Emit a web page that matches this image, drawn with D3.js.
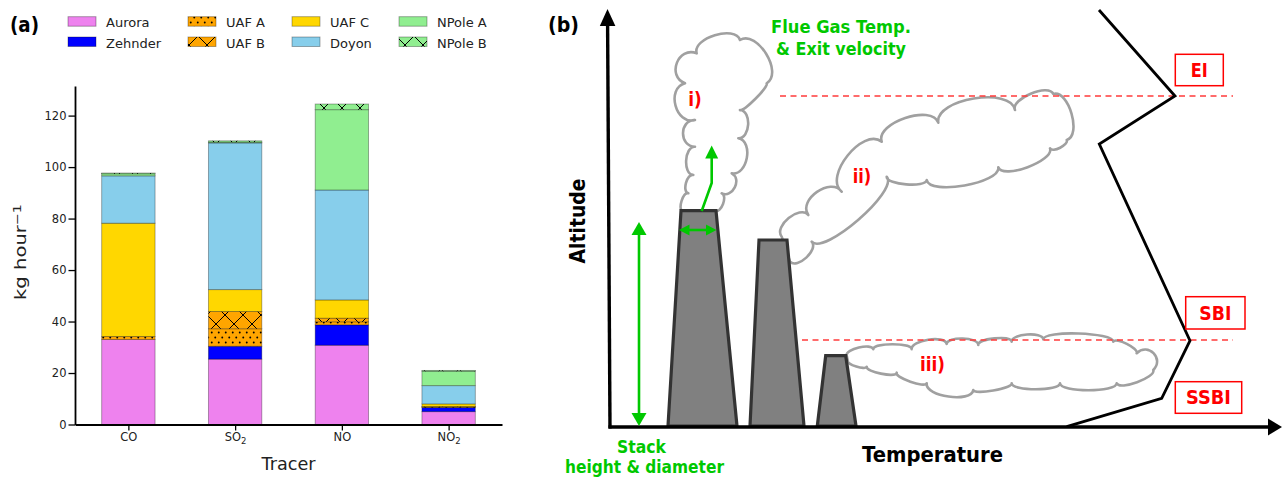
<!DOCTYPE html>
<html><head><meta charset="utf-8">
<script src="https://cdn.jsdelivr.net/npm/d3@7/dist/d3.min.js"></script>
<style>html,body{margin:0;padding:0;background:#fff}svg{display:block}</style>
</head><body>
<svg id="fig" width="1282" height="477" xmlns="http://www.w3.org/2000/svg"></svg>
<script>
// ---------------- Panel (a) data ----------------
const categories   = ["CO", "SO2", "NO", "NO2"];
const categoryMain = ["CO", "SO", "NO", "NO"];
const categorySub  = ["", "2", "", "2"];
const seriesNames  = ["Aurora", "Zehnder", "UAF A", "UAF B", "UAF C", "Doyon", "NPole A", "NPole B"];
const aurora  = [33.0, 25.4, 30.8, 5.0];
const zehnder = [0.0, 5.0, 7.9, 1.6];
const uafA    = [1.2, 6.8, 1.2, 0.2];
const uafB    = [0.0, 6.7, 1.4, 0.2];
const uafC    = [44.0, 8.5, 7.1, 1.0];
const doyon   = [18.4, 57.0, 42.7, 7.1];
const npoleA  = [0.8, 0.3, 31.2, 5.6];
const npoleB  = [0.3, 0.5, 2.2, 0.3];
const yTicks  = [0, 20, 40, 60, 80, 100, 120];
const yLabelMain = "kg hour", yLabelSup = "\u22121";
const xLabel = "Tracer";

// ---------------- Panel (b) schematic geometry ----------------
const stacks = [
  [[681, 210.7], [716, 210.7], [737, 426], [668, 426]],
  [[759, 240], [787, 240], [804, 426], [750, 426]],
  [[825.7, 355.7], [845.7, 355.7], [856, 426], [817.3, 426]]
];
const tempProfile = [[1099, 10], [1175, 96], [1099.3, 144], [1190, 340.7], [1161.7, 398.3], [1066.7, 426.7]];
const inversionNames = ["EI", "SBI", "SSBI"];
const plumeNames = ["i)", "ii)", "iii)"];
// cloud outlines: cusp vertices + bulge (sagitta) for each segment
const plume1 = [[682.5,211],[688.3,193.3],[693.3,175],[695,146.7],[695,120],[685,83.3],[696.7,53.3],[740,40],[766.7,83.3],[740,110],[738.3,138.3],[731.7,173.3],[721.7,193.3],[715,211]];
const plume1Bulge = [4,5,8,12,15,15,12,15,3,9,12,9,5,0];
const plume2 = [[781.7,236.7],[808.3,215],[841.7,191.7],[881.7,141.7],[938.3,122.7],[1015,110],[1053.3,94],[1066.7,140],[1050,148.3],[998.3,167.3],[926.7,180],[886.7,176.7],[811.7,241.7],[790,261.7]];
const plume2Bulge = [10,14,18,15,18,9,12,4,10,12,6,14,8,0];
const plume3 = [[846.7,355.5],[873.3,349.3],[911.7,349.3],[946.7,344],[978.3,345],[1011.7,341.7],[1043.3,339.3],[1113.3,341.7],[1136.7,353.3],[1153.3,370],[1116.7,383.3],[1060,383.3],[1011.7,383.3],[973.3,390],[926.7,383.3],[896.7,372.7],[866.7,366.7],[847.8,360.7]];
const plume3Bulge = [5,5,7,6,5,6,7,4,12,6,7,6,4,10,4,4,3,0];

// ---------------- styles ----------------
const seriesValues = [aurora, zehnder, uafA, uafB, uafC, doyon, npoleA, npoleB];
const seriesColor  = ["violet", "blue", "orange", "orange", "gold", "skyblue", "lightgreen", "lightgreen"];
const seriesHatch  = [null, null, "dots", "cross", null, null, null, "cross"];
const GREEN = "#00c800", RED = "#ff0000", FONT = "DejaVu Sans";

const svg = d3.select("#fig");
svg.append("rect").attr("width", 1282).attr("height", 477).attr("fill", "#fff");
const defs = svg.append("defs");
const pc = defs.append("pattern").attr("id", "hatch-cross").attr("patternUnits", "userSpaceOnUse").attr("width", 18).attr("height", 18);
pc.append("path").attr("d", "M-2,-2L20,20M-2,20L20,-2").attr("stroke", "#000").attr("stroke-width", 1).attr("fill", "none");
const pd = defs.append("pattern").attr("id", "hatch-dots").attr("patternUnits", "userSpaceOnUse").attr("width", 7).attr("height", 10);
pd.append("circle").attr("cx", 1.75).attr("cy", 2.5).attr("r", 0.95).attr("fill", "#000");
pd.append("circle").attr("cx", 5.25).attr("cy", 7.5).attr("r", 0.95).attr("fill", "#000");

// ================= Panel (a) =================
const x = d3.scaleLinear().domain([-0.5, 3.5]).range([75, 502]);
const y = d3.scaleLinear().domain([0, 131.5]).range([424.5, 86]);
const rows = categories.map((c, i) => {
  const r = { cat: c };
  seriesNames.forEach((s, k) => { r[s] = seriesValues[k][i]; });
  return r;
});
const stacked = d3.stack().keys(seriesNames)(rows);
const bw = x(0.25) - x(-0.25);
const gA = svg.append("g");
stacked.forEach((layer, k) => {
  const data = layer.map((d, i) => ({ d, i })).filter(o => o.d[1] - o.d[0] > 0);
  const g = gA.append("g");
  const draw = (fill, stroke) => g.selectAll(null).data(data).join("rect")
    .attr("x", o => x(o.i) - bw / 2).attr("y", o => y(o.d[1]))
    .attr("width", bw).attr("height", o => y(o.d[0]) - y(o.d[1]))
    .attr("fill", fill).attr("stroke", stroke).attr("stroke-width", 0.9);
  draw(seriesColor[k], "none");
  if (seriesHatch[k]) draw(`url(#hatch-${seriesHatch[k]})`, "none");
  draw("none", "rgba(0,0,0,0.35)");
});

const gy = svg.append("g").attr("transform", "translate(75,0)")
  .call(d3.axisLeft(y).tickValues(yTicks).tickSize(6.5).tickSizeOuter(0).tickPadding(2));
gy.attr("font-family", FONT).attr("font-size", 11.5);
gy.select(".domain").attr("stroke-width", 1.8);
gy.selectAll(".tick line").attr("stroke-width", 1.3);
gy.selectAll(".tick text").attr("fill", "#222");

const gx = svg.append("g").attr("transform", "translate(0,424.5)")
  .call(d3.axisBottom(x).tickValues(d3.range(categories.length)).tickSize(6).tickSizeOuter(0).tickPadding(2.5).tickFormat(i => categoryMain[i]));
gx.attr("font-family", FONT).attr("font-size", 11.5);
gx.select(".domain").attr("stroke-width", 1.8);
gx.selectAll(".tick line").attr("stroke-width", 1.3);
gx.selectAll(".tick text").attr("fill", "#222").each(function (i) {
  if (categorySub[i]) d3.select(this).append("tspan").attr("dy", "0.3em").attr("font-size", 8.5).text(categorySub[i]);
});

const yl = svg.append("text").attr("transform", "translate(26,252) rotate(-90)")
  .attr("text-anchor", "middle").attr("font-family", FONT).attr("font-size", 15).attr("fill", "#222")
  .attr("textLength", 96).attr("lengthAdjust", "spacingAndGlyphs");
yl.append("tspan").text(yLabelMain);
yl.append("tspan").attr("dy", "-0.45em").attr("font-size", 11).text(yLabelSup);

svg.append("text").attr("x", 288.5).attr("y", 470).attr("text-anchor", "middle")
  .attr("font-family", FONT).attr("font-size", 18).attr("fill", "#222")
  .attr("textLength", 54).attr("lengthAdjust", "spacingAndGlyphs").text(xLabel);

// legend (matplotlib ncol=4, column-major)
const legColX = [68, 188, 292, 399], legRowY = [16.7, 37];
const leg = svg.append("g").attr("font-family", FONT).attr("font-size", 13);
seriesNames.forEach((s, k) => {
  const cx = legColX[Math.floor(k / 2)], cy = legRowY[k % 2];
  leg.append("rect").attr("x", cx).attr("y", cy).attr("width", 28).attr("height", 9.5).attr("fill", seriesColor[k]);
  if (seriesHatch[k]) leg.append("rect").attr("x", cx).attr("y", cy).attr("width", 28).attr("height", 9.5).attr("fill", `url(#hatch-${seriesHatch[k]})`);
  leg.append("rect").attr("x", cx).attr("y", cy).attr("width", 28).attr("height", 9.5).attr("fill", "none").attr("stroke", "rgba(0,0,0,0.35)").attr("stroke-width", 0.9);
  leg.append("text").attr("x", cx + 38).attr("y", cy + 10.6).attr("fill", "#222").text(s);
});

svg.append("text").attr("x", 10).attr("y", 32).attr("font-family", FONT).attr("font-weight", "bold")
  .attr("font-size", 21).attr("textLength", 29).attr("lengthAdjust", "spacingAndGlyphs").text("(a)");

// ================= Panel (b) =================
const bx = d3.scaleLinear().domain([540, 1282]).range([540, 1282]);
const by = d3.scaleLinear().domain([0, 477]).range([0, 477]);
const gB = svg.append("g");
const P = p => [bx(p[0]), by(p[1])];

function cloud(pts, bulge) {
  const p = d3.path();
  const q = pts.map(P);
  p.moveTo(q[0][0], q[0][1]);
  for (let i = 0; i < q.length; i++) {
    const A = q[i], B = q[(i + 1) % q.length], s = bulge[i];
    if (!s) { p.lineTo(B[0], B[1]); continue; }
    const dx = B[0] - A[0], dy = B[1] - A[1], L = Math.hypot(dx, dy);
    const nx = dy / L, ny = -dx / L, h = s / 0.75;
    p.bezierCurveTo(A[0] + nx * h, A[1] + ny * h, B[0] + nx * h, B[1] + ny * h, B[0], B[1]);
  }
  p.closePath();
  return p.toString();
}
[[plume1, plume1Bulge], [plume2, plume2Bulge], [plume3, plume3Bulge]].forEach(([pts, bl]) => {
  gB.append("path").attr("d", cloud(pts, bl)).attr("fill", "#fff").attr("stroke", "#a0a0a0")
    .attr("stroke-width", 2.6).attr("stroke-linejoin", "round");
});

// inversion dashed lines
const levels = [{ y: 96, x0: 780, x1: 1233 }, { y: 340, x0: 802, x1: 1233 }];
levels.forEach(l => gB.append("line").attr("x1", bx(l.x0)).attr("x2", bx(l.x1)).attr("y1", by(l.y)).attr("y2", by(l.y))
  .attr("stroke", "#ff3b3b").attr("stroke-width", 1.6).attr("stroke-dasharray", "6,4.5"));

// stacks
stacks.forEach(s => gB.append("path").attr("d", d3.line()(s.map(P)) + "Z")
  .attr("fill", "#808080").attr("stroke", "#333").attr("stroke-width", 3.2).attr("stroke-linejoin", "miter"));

// temperature profile
gB.append("path").attr("d", d3.line()(tempProfile.map(P))).attr("fill", "none")
  .attr("stroke", "#000").attr("stroke-width", 2.8).attr("stroke-linejoin", "miter");

// arrows helper
function arrow(g, pts, color, width, heads, len, halfW) {
  const q = pts.map(P).map(p => p.slice());
  const shorten = (tip, from) => {
    const dx = tip[0] - from[0], dy = tip[1] - from[1], L = Math.hypot(dx, dy);
    const ux = dx / L, uy = dy / L;
    const base = [tip[0] - ux * len, tip[1] - uy * len];
    g.append("path").attr("d", d3.line()([tip.slice(), [base[0] - uy * halfW, base[1] + ux * halfW], [base[0] + uy * halfW, base[1] - ux * halfW]]) + "Z")
      .attr("fill", color);
    return [tip[0] - ux * (len - 1), tip[1] - uy * (len - 1)];
  };
  const n = q.length;
  if (heads.end) q[n - 1] = shorten(q[n - 1], q[n - 2]);
  if (heads.start) q[0] = shorten(q[0], q[1]);
  g.append("path").attr("d", d3.line()(q)).attr("fill", "none").attr("stroke", color).attr("stroke-width", width);
}
// axes of schematic
arrow(gB, [[610, 428.5], [607.5, 9]], "#000", 3.4, { end: true }, 17, 7.8);
arrow(gB, [[608.5, 427], [1282, 427]], "#000", 3.4, { end: true }, 14, 8.5);
// green arrows
arrow(gB, [[639, 222], [639, 426]], GREEN, 2.6, { start: true, end: true }, 13, 7.5);
arrow(gB, [[679, 230], [716.5, 230]], GREEN, 2.6, { start: true, end: true }, 10.5, 5.5);
arrow(gB, [[701.7, 211], [711.7, 183], [711.7, 145.5]], GREEN, 2.6, { end: true }, 13, 6.5);

// inversion label boxes
const boxes = [
  { x0: 1175.3, x1: 1223.3, y0: 54.3, y1: 85.7, base: 76.7, w: 17 },
  { x0: 1185.7, x1: 1245, y0: 296.7, y1: 329, base: 320, w: 32 },
  { x0: 1175.3, x1: 1241.7, y0: 381.7, y1: 413.3, base: 404.3, w: 45 }
];
boxes.forEach((b, i) => {
  gB.append("rect").attr("x", bx(b.x0)).attr("y", by(b.y0)).attr("width", bx(b.x1) - bx(b.x0)).attr("height", by(b.y1) - by(b.y0))
    .attr("fill", "#fff").attr("stroke", RED).attr("stroke-width", 1.5);
  gB.append("text").attr("x", bx((b.x0 + b.x1) / 2)).attr("y", by(b.base)).attr("text-anchor", "middle")
    .attr("font-family", FONT).attr("font-weight", "bold").attr("font-size", 19).attr("fill", RED)
    .attr("textLength", b.w).attr("lengthAdjust", "spacingAndGlyphs").text(inversionNames[i]);
});

// texts
function label(txt, cx, base, size, w, color, rot) {
  const t = gB.append("text").attr("text-anchor", "middle").attr("font-family", FONT).attr("font-weight", "bold")
    .attr("font-size", size).attr("fill", color).attr("textLength", w).attr("lengthAdjust", "spacingAndGlyphs").text(txt);
  if (rot) t.attr("transform", `translate(${bx(cx)},${by(base)}) rotate(-90)`);
  else t.attr("x", bx(cx)).attr("y", by(base));
}
label(plumeNames[0], 695, 105.5, 19, 13.5, RED);
label(plumeNames[1], 862, 183, 19, 18.5, RED);
label(plumeNames[2], 932.5, 371, 19, 25, RED);
label("Flue Gas Temp.", 841, 33.3, 18, 140, GREEN);
label("& Exit velocity", 841, 55, 18, 130, GREEN);
label("Stack", 641.5, 453, 18, 49, GREEN);
label("height & diameter", 644.5, 473, 18, 159, GREEN);
label("Temperature", 932.5, 461.7, 21, 141, "#000");
label("Altitude", 585, 221, 21, 85, "#000", true);
svg.append("text").attr("x", 548).attr("y", 32).attr("font-family", FONT).attr("font-weight", "bold")
  .attr("font-size", 21).attr("textLength", 31).attr("lengthAdjust", "spacingAndGlyphs").text("(b)");
</script>
</body></html>
